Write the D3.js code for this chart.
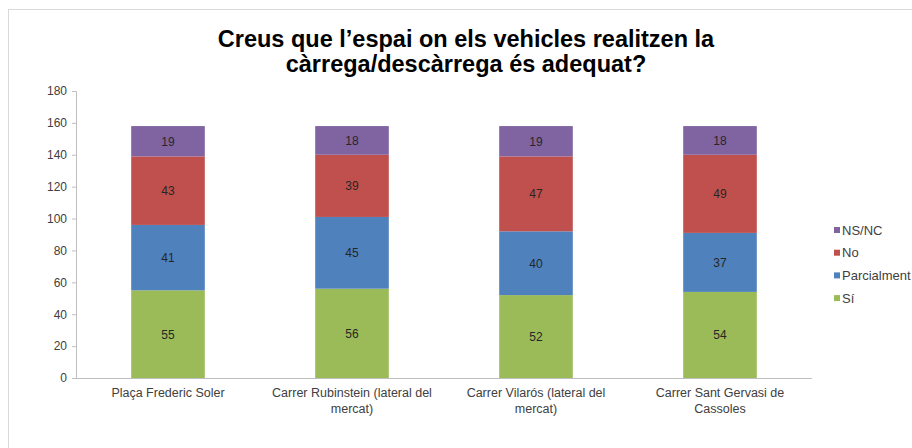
<!DOCTYPE html>
<html>
<head>
<meta charset="utf-8">
<script src="https://cdn.jsdelivr.net/npm/d3@7"></script>
<style>
  body { margin: 0; background: #fff; }
  text { font-family: "Liberation Sans", Arial, sans-serif; }
</style>
</head>
<body>
<div id="chart"></div>
<script>
// data
const categories = [
  ["Plaça Frederic Soler"],
  ["Carrer Rubinstein (lateral del", "mercat)"],
  ["Carrer Vilarós (lateral del", "mercat)"],
  ["Carrer Sant Gervasi de", "Cassoles"]
];
const seriesNames = ["Sí", "Parcialment", "No", "NS/NC"];
const si = [55, 56, 52, 54];
const parcialment = [41, 45, 40, 37];
const no = [43, 39, 47, 49];
const nsnc = [19, 18, 19, 18];
const yTicks = [0, 20, 40, 60, 80, 100, 120, 140, 160, 180];
const colors = ["#9BBB59", "#4F81BD", "#C0504D", "#8064A2"];

const width = 912, height = 448;

let svg = d3.select("#chart")
  .append("svg")
    .attr("width", width)
    .attr("height", height);

// outer frame
svg.append("rect")
  .attr("x", 8.5).attr("y", 9.5)
  .attr("width", 920).attr("height", 460)
  .attr("fill", "none")
  .attr("stroke", "#d9d9d9");

// title
svg.append("text")
  .attr("x", 466).attr("y", 47)
  .attr("text-anchor", "middle")
  .style("font-size", "23.5px").style("font-weight", "bold")
  .text("Creus que l’espai on els vehicles realitzen la");
svg.append("text")
  .attr("x", 466).attr("y", 72)
  .attr("text-anchor", "middle")
  .style("font-size", "23.5px").style("font-weight", "bold")
  .text("càrrega/descàrrega és adequat?");

const table = categories.map((c, i) => ({
  idx: i, "Sí": si[i], "Parcialment": parcialment[i], "No": no[i], "NS/NC": nsnc[i]
}));
const stack = d3.stack().keys(seriesNames)(table);

const x = d3.scaleBand()
  .domain(d3.range(categories.length))
  .range([76, 812])
  .paddingInner(0.6)
  .paddingOuter(0.3);

const y = d3.scaleLinear()
  .domain([0, 180])
  .range([378, 91]);

// y axis
const yAxis = svg.append("g")
  .attr("transform", "translate(76,0)")
  .call(d3.axisLeft(y).tickValues(yTicks).tickSize(4).tickPadding(5));
yAxis.select(".domain").attr("stroke", "#bfbfbf");
yAxis.selectAll(".tick line").attr("stroke", "#bfbfbf");
yAxis.selectAll(".tick text")
  .style("font-size", "12px").attr("fill", "#404040")
  .style("font-family", "'Liberation Sans', Arial, sans-serif");

// bars
const layers = svg.selectAll("g.layer")
  .data(stack)
  .enter()
  .append("g")
    .attr("class", "layer")
    .attr("fill", (d, i) => colors[i]);

layers.selectAll("rect")
  .data(d => d)
  .enter()
  .append("rect")
    .attr("x", d => x(d.data.idx))
    .attr("y", d => y(d[1]))
    .attr("width", x.bandwidth())
    .attr("height", d => y(d[0]) - y(d[1]));

layers.selectAll("text")
  .data(d => d.map(v => ({v: v, key: d.key})))
  .enter()
  .append("text")
    .attr("x", d => x(d.v.data.idx) + x.bandwidth() / 2)
    .attr("y", d => (y(d.v[0]) + y(d.v[1])) / 2 + 4.5)
    .attr("text-anchor", "middle")
    .attr("fill", "#262626")
    .style("font-size", "12px")
    .text(d => d.v.data[d.key]);

// x axis line
svg.append("line")
  .attr("x1", 76).attr("x2", 812)
  .attr("y1", 378.5).attr("y2", 378.5)
  .attr("stroke", "#bfbfbf");

// category labels
categories.forEach((lines, i) => {
  const t = svg.append("text")
    .attr("text-anchor", "middle")
    .attr("fill", "#404040")
    .style("font-size", "12.5px");
  lines.forEach((ln, j) => {
    t.append("tspan")
      .attr("x", x(i) + x.bandwidth() / 2)
      .attr("y", 397 + j * 15.5)
      .text(ln);
  });
});

// legend (reverse order)
const legendOrder = seriesNames.map((n, i) => ({name: n, color: colors[i]})).reverse();
const legend = svg.selectAll("g.legend")
  .data(legendOrder)
  .enter()
  .append("g")
    .attr("class", "legend")
    .attr("transform", (d, i) => "translate(834," + (230 + i * 22.7) + ")");
legend.append("rect")
  .attr("x", 0).attr("y", -3)
  .attr("width", 6).attr("height", 6)
  .attr("fill", d => d.color);
legend.append("text")
  .attr("x", 8).attr("y", 4.5)
  .attr("fill", "#404040")
  .style("font-size", "13px")
  .text(d => d.name);
</script>
</body>
</html>
